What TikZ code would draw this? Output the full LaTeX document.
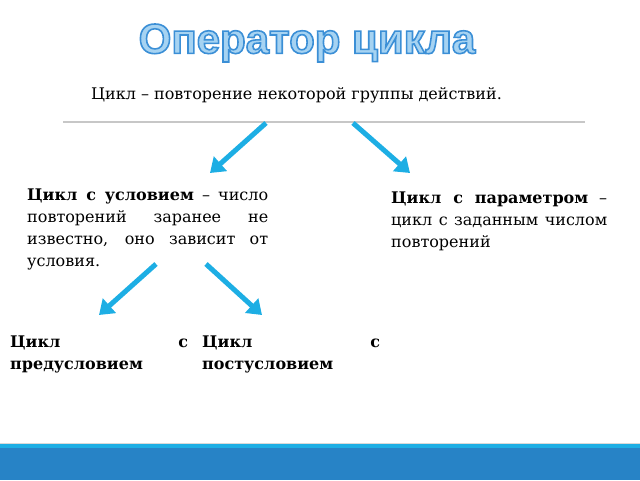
\documentclass[tikz,border=0pt]{standalone}
\usepackage{fontspec}
\setmainfont{DejaVu Serif}
\newfontfamily\titlefont{Liberation Sans}
\usepackage{tikz}
\usetikzlibrary{arrows.meta}
\definecolor{arrowcyan}{HTML}{1DAEE4}
\definecolor{barblue}{HTML}{2783C6}
\definecolor{titlefill}{HTML}{A6D3F2}
\hyphenpenalty=10000
\exhyphenpenalty=10000
% outlined title text (stroke + fill)
\newcommand{\outlinetext}[1]{\special{pdf:literal direct 0.23 0.56 0.84 RG 1.6 w 2 Tr}#1\special{pdf:literal direct 0 Tr}}

\begin{document}
\begin{tikzpicture}[x=1pt, y=-1pt]
		\tikzstyle{Body}	= [inner sep=0pt, font=\fontsize{16}{22.3}\selectfont]
		\tikzstyle{Para}	= [Body, anchor=base west, align=justify]
		\tikzstyle{Arr}		= [line width=5pt, arrowcyan, -{Triangle[length=14pt, width=19pt]}]

		\useasboundingbox (0,0) rectangle (640,480);

		% bottom band
		\fill[barblue] (0,448) rectangle (640,480);
		\fill[arrowcyan] (0,443.5) rectangle (640,448);
		\draw[line width=0.8pt, black!15] (0,443) -- (640,443);

		\node (title) at (307,43) [inner sep=0pt, titlefill] {\titlefont\bfseries\fontsize{42}{42}\selectfont\outlinetext{Оператор цикла}};
		\node (def) at (91,99) [Body, anchor=base west] {Цикл – повторение некоторой группы действий.};
		\draw [line width=1.5pt, black!22] (63,122) -- (585,122);

		\node (cond) at (27,200) [Para, text width=241pt] {\textbf{Цикл с условием} – число повторений заранее не известно, оно зависит от условия.};
		\node (param) at (391,203) [Para, text width=216pt] {\textbf{Цикл с параметром} – цикл с заданным числом повторений};
		\node (pre) at (10,347) [Para, text width=178pt] {\textbf{Цикл с предусловием}};
		\node (post) at (202,347) [Para, text width=178pt] {\textbf{Цикл с постусловием}};

		\coordinate (a1) at (266,123);
		\coordinate (b1) at (210,173);
		\coordinate (a2) at (353,123);
		\coordinate (b2) at (410,173);
		\coordinate (a3) at (156,264);
		\coordinate (b3) at (99,315);
		\coordinate (a4) at (206,264);
		\coordinate (b4) at (262,315);

		\draw (a1) -- (b1) [Arr];
		\draw (a2) -- (b2) [Arr];
		\draw (a3) -- (b3) [Arr];
		\draw (a4) -- (b4) [Arr];
	\end{tikzpicture}
\end{document}
